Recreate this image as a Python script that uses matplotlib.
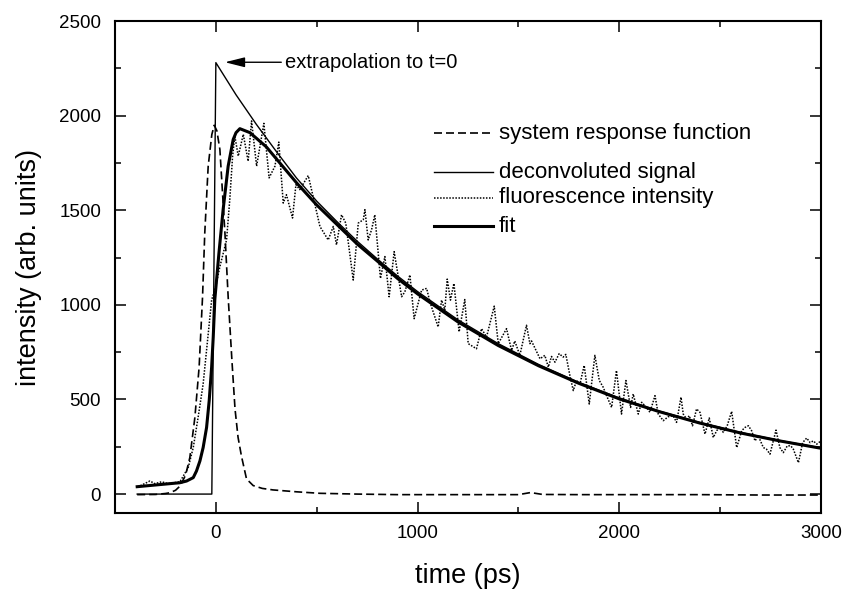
import matplotlib
matplotlib.use("Agg")
import matplotlib.pyplot as plt
from matplotlib.lines import Line2D
from matplotlib.ticker import MultipleLocator

plt.rcParams['font.family'] = ['Liberation Sans', 'DejaVu Sans']

# ---------------- data ----------------
srf_t = [-390, -300, -250, -228, -200, -178, -150, -129, -104, -83, -66, -55, -38, -20, -8,
         5, 20, 45, 61, 80, 95, 110, 127, 152, 185, 230, 283, 400, 516, 700, 900, 1200,
         1500, 1560, 1620, 1800, 2000, 2400, 2700, 3000]
srf_v = [-3, -2, 3, 7, 20, 42, 100, 193, 405, 670, 1042, 1379, 1733, 1900, 1949,
         1920, 1821, 1379, 1042, 700, 450, 300, 200, 80, 45, 30, 22, 12, 4, 0, -3, -3,
         -3, 8, -2, -3, -3, -3, -5, -5]

dec_t = [-390, -20, 0, 100, 200, 300, 400, 500, 600, 700, 800, 900, 1000, 1200, 1400,
         1600, 1800, 2000, 2200, 2400, 2600, 2800, 3000]
dec_v = [0, 0, 2280, 2110, 1955, 1810, 1670, 1548, 1440, 1337, 1243, 1153, 1070, 921, 795,
         685, 590, 508, 438, 378, 326, 282, 244]

fl_t = [-388, -327, -302, -269, -236, -178, -137, -112, -88, -63, -38, -21, 0, 20, 53, 69,
        83, 94, 111, 136, 160, 177, 202, 238, 264, 293, 312, 334, 350, 380, 397, 416, 458,
        482, 516, 557, 582, 598, 623, 644, 681, 706, 731, 739, 755, 772, 788, 816, 838, 859,
        884, 896, 921, 937, 962, 983, 1020, 1045, 1061, 1102, 1119, 1135, 1147, 1163, 1180,
        1206, 1234, 1251, 1292, 1317, 1342, 1380, 1400, 1441, 1466, 1482, 1507, 1540, 1557,
        1565, 1607, 1631, 1648, 1664, 1681, 1702, 1722, 1735, 1755, 1772, 1788, 1805, 1826,
        1851, 1879, 1901, 1920, 1937, 1962, 1986, 2011, 2033, 2056, 2069, 2094, 2111, 2135,
        2152, 2177, 2193, 2218, 2243, 2267, 2284, 2306, 2317, 2334, 2347, 2363, 2383, 2400,
        2425, 2446, 2466, 2483, 2496, 2516, 2535, 2557, 2582, 2607, 2623, 2640, 2656, 2673,
        2689, 2714, 2730, 2747, 2777, 2796, 2813, 2833, 2850, 2863, 2888, 2909, 2929, 2946,
        2962, 2979, 3000]
fl_v = [37, 69, 55, 65, 55, 65, 140, 246, 405, 582, 848, 1025, 1100, 1202, 1343, 1556,
        1786, 1892, 1786, 1901, 1759, 1972, 1733, 1959, 1671, 1733, 1860, 1538, 1582, 1459,
        1635, 1609, 1683, 1573, 1414, 1343, 1414, 1317, 1476, 1432, 1131, 1432, 1450, 1503,
        1343, 1397, 1476, 1140, 1255, 1043, 1281, 1202, 1043, 1069, 1158, 927, 1078, 1087,
        1016, 883, 1025, 972, 1136, 1025, 1113, 857, 1028, 795, 768, 874, 830, 993, 795, 874,
        759, 809, 733, 892, 795, 809, 715, 733, 671, 727, 697, 742, 724, 738, 627, 547, 600,
        582, 680, 476, 733, 600, 565, 520, 458, 653, 423, 600, 458, 529, 423, 485, 458, 432,
        520, 423, 388, 409, 414, 379, 512, 423, 396, 414, 361, 450, 432, 317, 402, 299, 335,
        352, 326, 361, 437, 246, 335, 352, 361, 335, 281, 308, 246, 237, 211, 338, 246, 219,
        255, 255, 237, 166, 272, 296, 272, 281, 264, 281]

fit_t = [-390, -300, -178, -145, -112, -96, -79, -63, -46, -33, -21, -13, -5, 15, 36, 61, 86,
         100, 119, 169, 250, 317, 400, 499, 600, 700, 813, 900, 1000, 1200, 1400, 1600, 1800,
         2000, 2200, 2400, 2600, 2800, 3000]
fit_v = [39, 48, 60, 69, 87, 122, 175, 246, 352, 494, 670, 830, 1030, 1270, 1503, 1733, 1874,
         1910, 1931, 1910, 1835, 1750, 1645, 1529, 1425, 1322, 1220, 1140, 1058, 910, 785, 678,
         585, 503, 435, 375, 323, 280, 242]

labels = ["system response function", "deconvoluted signal", "fluorescence intensity", "fit"]
x_ticks = [0, 1000, 2000, 3000]
y_ticks = [0, 500, 1000, 1500, 2000, 2500]

# ---------------- figure ----------------
W, H = 846, 591
fig = plt.figure(figsize=(W / 100, H / 100), dpi=100)
ax = fig.add_axes([115 / W, 1 - 513 / H, (821 - 115) / W, (513 - 21) / H])

dash = (4.8, 2.4)
ax.plot(srf_t, srf_v, color='black', lw=1.2, dashes=dash)
ax.plot(dec_t, dec_v, color='black', lw=1.0)
ax.plot(fl_t, fl_v, color='black', lw=1.1, linestyle=(0, (1, 1)))
ax.plot(fit_t, fit_v, color='black', lw=2.2)

ax.set_xlim(-500, 3000)
ax.set_ylim(-100, 2500)
ax.set_xticks(x_ticks)
ax.set_yticks(y_ticks)
ax.xaxis.set_minor_locator(MultipleLocator(500))
ax.yaxis.set_minor_locator(MultipleLocator(250))
ax.tick_params(which='both', direction='in', top=True, right=True, width=1.1,
               labelsize=13.5, colors='black')
ax.tick_params(which='major', length=8)
ax.tick_params(which='minor', length=4)
ax.tick_params(axis='x', pad=9)
ax.tick_params(axis='y', pad=10)
for s in ax.spines.values():
    s.set_linewidth(1.5)

ax.set_xlabel("time (ps)", fontsize=19.5, labelpad=15)
ax.set_ylabel("intensity (arb. units)", fontsize=19.5, labelpad=12)

# arrow annotation
ax.annotate("extrapolation to t=0", xy=(45, 2282), xytext=(345, 2282),
            textcoords='data', fontsize=14.5, va='center', ha='left',
            arrowprops=dict(arrowstyle='-|>,head_length=0.6,head_width=0.15',
                            mutation_scale=20, lw=1.0, color='black',
                            shrinkA=1, shrinkB=0))

# manual legend (pixel positions)
def fx(px):
    return px / W

def fy(py):
    return 1 - py / H

leg_rows = [(133, dict(lw=1.2, dashes=dash)),
            (172, dict(lw=1.0)),
            (198, dict(lw=1.1, linestyle=(0, (1, 1)))),
            (226, dict(lw=2.2))]
for (py, style), lab in zip(leg_rows, labels):
    fig.add_artist(Line2D([fx(434), fx(493)], [fy(py), fy(py)], color='black',
                          transform=fig.transFigure, **style))
    fig.text(fx(499), fy(py), lab, fontsize=16, va='center', ha='left')

fig.savefig("out.png", dpi=100)
